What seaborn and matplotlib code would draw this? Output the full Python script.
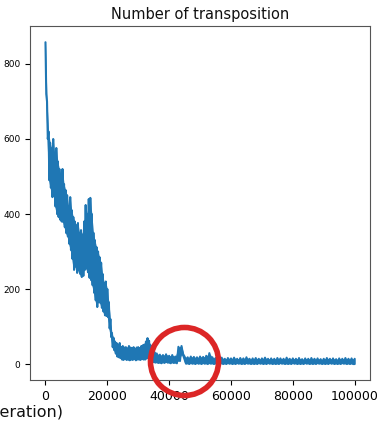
import numpy as np
import pandas as pd
import matplotlib
matplotlib.use("Agg")
import matplotlib.pyplot as plt
import seaborn as sns

# iterations: every 500 in the decay part, every 1000 in the flat tail
iteration = list(range(0, 35000, 500)) + list(range(35000, 100001, 1000))

# upper / lower edge of the noisy band
upper = [858, 700, 620, 590, 575, 600, 560, 576, 540, 520,
         505, 520, 480, 464, 450, 420, 445, 410, 392, 380,
         370, 376, 350, 357, 345, 380, 424, 400, 440, 443,
         400, 350, 330, 312, 300, 285, 270, 240, 216, 220,
         200, 165, 120, 83, 70, 60, 56, 50, 56, 45,
         48, 44, 45, 42, 48, 44, 42, 45, 40, 44,
         45, 42, 48, 50, 52, 60, 69, 62, 50, 38,
         # tail, step 1000 from 35000
         38, 28, 25, 24, 26, 22, 24, 20, 46, 48,
         20, 18, 20, 19, 18, 20, 19, 22, 29, 18,
         16, 15, 17, 14, 16, 15, 17, 14, 16, 15,
         18, 14, 15, 16, 14, 15, 17, 14, 15, 14,
         16, 15, 14, 17, 14, 15, 14, 16, 13, 15,
         14, 16, 14, 15, 13, 14, 16, 14, 15, 13,
         15, 14, 16, 14, 15, 14]
lower = [720, 600, 490, 470, 445, 450, 420, 400, 392, 385,
         380, 379, 365, 349, 340, 320, 304, 280, 251, 260,
         243, 250, 240, 232, 235, 251, 255, 245, 230, 224,
         210, 190, 170, 152, 165, 163, 150, 140, 130, 128,
         125, 95, 72, 45, 37, 28, 20, 18, 16, 12,
         11, 13, 11, 12, 10, 12, 11, 13, 10, 12,
         12, 11, 13, 12, 12, 15, 20, 15, 8, 5,
         4, 3, 2, 3, 4, 2, 3, 2, 8, 25,
         1, 0, 1, 0, 1, 0, 1, 0, 1, 0,
         0, 1, 0, 0, 1, 0, 0, 1, 0, 0,
         1, 0, 0, 0, 1, 0, 0, 1, 0, 0,
         0, 1, 0, 0, 0, 1, 0, 0, 0, 1,
         0, 0, 0, 1, 0, 0, 0, 1, 0, 0,
         0, 1, 0, 0, 0, 0]

highlight_x = 44700
highlight_y = 9

# zigzag between the edges so it reads as a noisy trace
xs, ys = [], []
for i, (x, hi, lo) in enumerate(zip(iteration, upper, lower)):
    nxt = iteration[i + 1] if i + 1 < len(iteration) else x
    xs += [x, (x + nxt) / 2]
    ys += [hi, lo]
df = pd.DataFrame({"iteration": xs, "count": ys})

sns.set_style("ticks")
fig = plt.figure(figsize=(3.8, 4.21), dpi=100)
ax = fig.add_axes([0.079, 0.097, 0.895, 0.841])

blue = "#1f77b4"
ax.fill_between(iteration, lower, upper, color=blue, linewidth=0)
sns.lineplot(data=df, x="iteration", y="count", ax=ax, color=blue,
             linewidth=1.5, estimator=None)

ax.plot([highlight_x], [highlight_y], marker="o", markersize=49,
        markerfacecolor="none", markeredgecolor="#dc2626",
        markeredgewidth=4, clip_on=False, zorder=5)

ax.set_xlim(-5000, 105000)
ax.set_ylim(-43, 901)
ax.set_xticks([0, 20000, 40000, 60000, 80000, 100000])
ax.set_yticks([0, 200, 400, 600, 800])
ax.tick_params(axis="x", labelsize=9, colors="black", length=3.5, width=0.8)
ax.tick_params(axis="y", labelsize=6.5, colors="black", length=3.5, width=0.8)
for s in ax.spines.values():
    s.set_color("#555555")
    s.set_linewidth(0.8)
    s.set_visible(True)
ax.set_xlabel("")
ax.set_ylabel("")
ax.set_title("Number of transposition", fontsize=10.5, color="#111111", pad=5)

fig.text(63 / 380, 9 / 421, "Time (iteration)", ha="right", va="center",
         fontsize=11.5, color="#111111")

plt.savefig("out.png", dpi=100)
